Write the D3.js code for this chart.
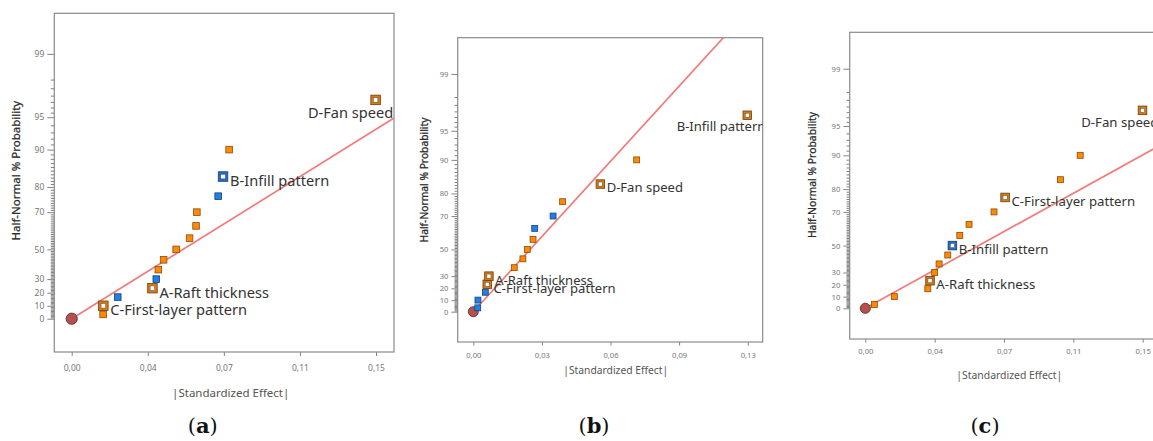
<!DOCTYPE html>
<html><head><meta charset="utf-8">
<script src="https://cdn.jsdelivr.net/npm/d3@7"></script>
<style>html,body{margin:0;padding:0;background:#fff;}svg{display:block;}</style>
</head><body>
<script>
// ---------- DATA ----------
const probabilities = [3.33, 10, 16.67, 23.33, 30, 36.67, 43.33, 50, 56.67, 63.33, 70, 76.67, 83.33, 90, 96.67];
const yMajorTicks = [0, 10, 20, 30, 50, 70, 80, 90, 95, 99];
const yMajorLabels = ["0", "10", "20", "30", "50", "70", "80", "90", "95", "99"];

// panel (a)
const effectsA = [0.0155, 0.0156, 0.0227, 0.0398, 0.0417, 0.0427, 0.0453, 0.0515, 0.0581, 0.0613, 0.0617, 0.0722, 0.0746, 0.0776, 0.1498];
const signsA   = ["+", "+", "-", "+", "-", "+", "+", "+", "+", "+", "+", "-", "-", "+", "+"];
const namesA   = ["", "C-First-layer pattern", "", "A-Raft thickness", "", "", "", "", "", "", "", "", "B-Infill pattern", "", "D-Fan speed"];
const xTicksA  = [0, 0.0375, 0.075, 0.1125, 0.15];
const xLabelsA = ["0,00", "0,04", "0,07", "0,11", "0,15"];
const lineA    = [0.15, 93.47];

// panel (b)
const effectsB = [0.0021, 0.0022, 0.0057, 0.0066, 0.0074, 0.0194, 0.0235, 0.0256, 0.0283, 0.0291, 0.0378, 0.0423, 0.0602, 0.0774, 0.1298];
const signsB   = ["-", "-", "-", "+", "+", "+", "+", "+", "+", "-", "-", "+", "+", "+", "+"];
const namesB   = ["", "", "", "C-First-layer pattern", "A-Raft thickness", "", "", "", "", "", "", "", "D-Fan speed", "", "B-Infill pattern"];
const xTicksB  = [0, 0.0325, 0.065, 0.0975, 0.13];
const xLabelsB = ["0,00", "0,03", "0,06", "0,09", "0,13"];
const lineB    = [0.10, 98.78];

// panel (c)
const effectsC = [0.0049, 0.0157, 0.0338, 0.0350, 0.0375, 0.0399, 0.0446, 0.0471, 0.0511, 0.0561, 0.0696, 0.0756, 0.1055, 0.1162, 0.1499];
const signsC   = ["+", "+", "+", "+", "+", "+", "+", "-", "+", "+", "+", "+", "+", "+", "+"];
const namesC   = ["", "", "", "A-Raft thickness", "", "", "", "B-Infill pattern", "", "", "", "C-First-layer pattern", "", "", "D-Fan speed"];
const xTicksC  = [0, 0.0375, 0.075, 0.1125, 0.15];
const xLabelsC = ["0,00", "0,04", "0,07", "0,11", "0,15"];
const lineC    = [0.15, 90.1];

const panelLetters = ["a", "b", "c"];

// ---------- LAYOUT ----------
const layouts = [
  {frame:{l:54.3, r:394, t:13.3, b:352}, x0:71.7, x1:376, xMax:0.15, z0:318.7, zUnit:102.8, s:1.0,
   yTitle:[16.7, 170.7], xTitle:[230.7, 394], xLab:16.5, letter:[202.7, 433],
   labelOff:{14:[-67.7, 14]}},
  {frame:{l:457.7, r:762.7, t:37.7, b:342}, x0:473.3, x1:747.7, xMax:0.13, z0:311.7, zUnit:92.3, s:0.895,
   yTitle:[425, 180], xTitle:[615.7, 371], xLab:14.5, letter:[594, 433],
   labelOff:{14:[-70.6, 12.4]}},
  {frame:{l:849.7, r:1195, t:32.3, b:339}, x0:865.3, x1:1142.7, xMax:0.15, z0:308.3, zUnit:93.0, s:0.905,
   yTitle:[813.3, 175], xTitle:[1009.3, 376.7], xLab:13.5, letter:[985, 433],
   labelOff:{14:[-61.3, 12.6]}}
];

const panels = [
  {effects:effectsA, signs:signsA, names:namesA, xTicks:xTicksA, xLabels:xLabelsA, line:lineA},
  {effects:effectsB, signs:signsB, names:namesB, xTicks:xTicksB, xLabels:xLabelsB, line:lineB},
  {effects:effectsC, signs:signsC, names:namesC, xTicks:xTicksC, xLabels:xLabelsC, line:lineC}
];

// inverse normal CDF (Acklam)
function probit(p){
  const a=[-3.969683028665376e+01,2.209460984245205e+02,-2.759285104469687e+02,1.383577518672690e+02,-3.066479806614716e+01,2.506628277459239e+00];
  const b=[-5.447609879822406e+01,1.615858368580409e+02,-1.556989798598866e+02,6.680131188771972e+01,-1.328068155288572e+01];
  const c=[-7.784894002430293e-03,-3.223964580411365e-01,-2.400758277161838e+00,-2.549732539343734e+00,4.374664141464968e+00,2.938163982698783e+00];
  const d=[7.784695709041462e-03,3.224671290700398e-01,2.445134137142996e+00,3.754408661907416e+00];
  const pl=0.02425, ph=1-pl; let q,r;
  if(p<pl){q=Math.sqrt(-2*Math.log(p));return (((((c[0]*q+c[1])*q+c[2])*q+c[3])*q+c[4])*q+c[5])/((((d[0]*q+d[1])*q+d[2])*q+d[3])*q+1);}
  if(p<=ph){q=p-0.5;r=q*q;return (((((a[0]*r+a[1])*r+a[2])*r+a[3])*r+a[4])*r+a[5])*q/(((((b[0]*r+b[1])*r+b[2])*r+b[3])*r+b[4])*r+1);}
  q=Math.sqrt(-2*Math.log(1-p));return -(((((c[0]*q+c[1])*q+c[2])*q+c[3])*q+c[4])*q+c[5])/((((d[0]*q+d[1])*q+d[2])*q+d[3])*q+1);
}
const halfZ = p => p <= 0 ? 0 : probit(0.5 + p/200);

const W = 1153, H = 441;
const svg = d3.select("body").append("svg").attr("width", W).attr("height", H);
svg.append("rect").attr("width", W).attr("height", H).attr("fill", "#fff");

const ORANGE = "#ff8a00", ORANGE_D = "#8a4a10", ORANGE_RING = "#d97a12", ORANGE_RING_D = "#6e3c0c";
const BLUE = "#1e80ea", BLUE_D = "#1b3e6e", BLUE_RING = "#1f6fd0", BLUE_RING_D = "#163a66";
const LABEL_FONT = "'Noto Sans', 'Open Sans', sans-serif";

const minorTicks = d3.range(1, 99, 1).concat([95.5, 96.5, 97.5])
  .filter(v => v <= 94 || v >= 95.5).filter(v => !yMajorTicks.includes(v));

panels.forEach((P, pi) => {
  const L = layouts[pi], f = L.frame, s = L.s;
  const g = svg.append("g");
  const x = d3.scaleLinear().domain([0, L.xMax]).range([L.x0, L.x1]);
  const zs = d3.scaleLinear().domain([0, 1]).range([L.z0, L.z0 - L.zUnit]);
  const y = p => zs(halfZ(p));

  const clipId = "clip" + pi;
  g.append("clipPath").attr("id", clipId).append("rect")
    .attr("x", f.l).attr("y", f.t).attr("width", f.r - f.l).attr("height", f.b - f.t);

  // y axis: minor ticks
  const yMinor = d3.axisLeft(zs).tickValues(minorTicks.map(halfZ)).tickSize(3.5 * s).tickFormat("");
  const gm = g.append("g").attr("transform", `translate(${f.l},0)`).call(yMinor);
  gm.select(".domain").remove();
  gm.selectAll("line").attr("stroke", "#6f6f6f").attr("stroke-width", 0.9);

  const yMajor = d3.axisLeft(zs).tickValues(yMajorTicks.map(halfZ)).tickSize(7 * s)
    .tickPadding(3).tickFormat((d, i) => yMajorLabels[i]);
  const gy = g.append("g").attr("transform", `translate(${f.l},0)`).call(yMajor);
  gy.select(".domain").remove();
  gy.selectAll("line").attr("stroke", "#777").attr("stroke-width", 0.9);
  gy.selectAll("text").attr("fill", "#777").attr("font-size", 8.5 * s).attr("font-family", LABEL_FONT);

  // x axis
  const xAxis = d3.axisBottom(x).tickValues(P.xTicks).tickSize(4 * s).tickPadding(L.xLab - 4 * s - 4)
    .tickFormat((d, i) => P.xLabels[i]);
  const gx = g.append("g").attr("transform", `translate(0,${f.b})`).call(xAxis);
  gx.select(".domain").remove();
  gx.selectAll("line").attr("stroke", "#777").attr("stroke-width", 0.9);
  gx.selectAll("text").attr("fill", "#777").attr("font-size", 8.5 * s).attr("font-family", LABEL_FONT);

  // frame
  g.append("rect").attr("x", f.l).attr("y", f.t).attr("width", f.r - f.l).attr("height", f.b - f.t)
    .attr("fill", "none").attr("stroke", "#8a8a8a").attr("stroke-width", 1.2);

  // titles
  g.append("text").attr("transform", `translate(${L.yTitle[0]},${L.yTitle[1]}) rotate(-90)`)
    .attr("text-anchor", "middle").attr("dominant-baseline", "middle")
    .attr("font-family", LABEL_FONT).attr("font-size", 11.5 * s).attr("fill", "#2a2a2a")
    .attr("stroke", "#2a2a2a").attr("stroke-width", 0.25)
    .text("Half-Normal % Probability");
  g.append("text").attr("x", L.xTitle[0]).attr("y", L.xTitle[1])
    .attr("text-anchor", "middle").attr("dominant-baseline", "middle")
    .attr("font-family", LABEL_FONT).attr("font-size", 11.5 * s).attr("fill", "#555")
    .text("|Standardized Effect|");

  const plot = g.append("g").attr("clip-path", `url(#${clipId})`);

  // fitted line through origin
  const slope = halfZ(P.line[1]) / P.line[0];
  const xEnd = x.invert(f.r);
  plot.append("line")
    .attr("x1", x(0)).attr("y1", zs(0))
    .attr("x2", x(xEnd)).attr("y2", zs(slope * xEnd))
    .attr("stroke", "#f27a7a").attr("stroke-width", 1.7);

  // origin circle
  plot.append("circle").attr("cx", x(0)).attr("cy", y(0)).attr("r", 5.6 * s)
    .attr("fill", "#b4514f").attr("stroke", "#6a2b2b").attr("stroke-width", 0.9);

  const pts = P.effects.map((e, i) => ({e, p: probabilities[i], sign: P.signs[i], name: P.names[i], i}));

  // plain points
  const sm = 6.6 * s;
  plot.selectAll("rect.pt").data(pts.filter(d => !d.name)).join("rect").attr("class", "pt")
    .attr("x", d => x(d.e) - sm / 2).attr("y", d => y(d.p) - sm / 2)
    .attr("width", sm).attr("height", sm)
    .attr("fill", d => d.sign === "+" ? ORANGE : BLUE)
    .attr("stroke", d => d.sign === "+" ? ORANGE_D : BLUE_D).attr("stroke-width", 0.8);

  // labelled points
  const big = 9.5 * s, inner = 4.6 * s;
  const lab = pts.filter(d => d.name);
  plot.selectAll("rect.lo").data(lab).join("rect").attr("class", "lo")
    .attr("x", d => x(d.e) - big / 2).attr("y", d => y(d.p) - big / 2)
    .attr("width", big).attr("height", big)
    .attr("fill", d => d.sign === "+" ? ORANGE_RING : BLUE_RING)
    .attr("stroke", d => d.sign === "+" ? ORANGE_RING_D : BLUE_RING_D).attr("stroke-width", 0.8);
  plot.selectAll("rect.li").data(lab).join("rect").attr("class", "li")
    .attr("x", d => x(d.e) - inner / 2).attr("y", d => y(d.p) - inner / 2)
    .attr("width", inner).attr("height", inner)
    .attr("fill", "#fff").attr("stroke", "#444").attr("stroke-width", 0.5);

  plot.selectAll("text.nm").data(lab).join("text").attr("class", "nm")
    .attr("x", d => x(d.e) + (L.labelOff[d.i] ? L.labelOff[d.i][0] : 7 * s))
    .attr("y", d => y(d.p) + (L.labelOff[d.i] ? L.labelOff[d.i][1] : 5.5 * s))
    .attr("dominant-baseline", "middle")
    .attr("font-family", LABEL_FONT).attr("font-size", 14.6 * s).attr("fill", "#333")
    .text(d => d.name);

  // panel letter
  const lt = svg.append("text").attr("x", L.letter[0]).attr("y", L.letter[1]).attr("text-anchor", "middle")
    .attr("font-family", "'DejaVu Serif', 'Liberation Serif', serif").attr("font-size", 21).attr("fill", "#111");
  lt.append("tspan").text("(");
  lt.append("tspan").attr("font-weight", "bold").text(panelLetters[pi]);
  lt.append("tspan").text(")");
});
</script>
</body></html>
